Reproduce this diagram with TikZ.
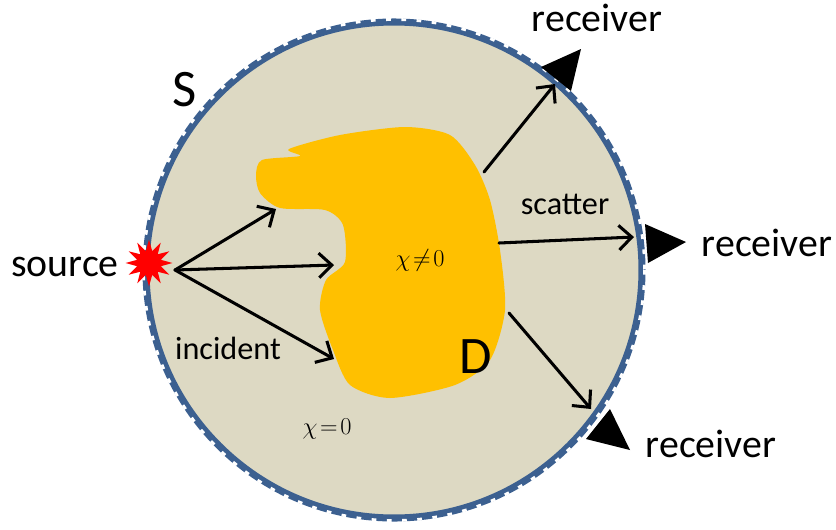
\documentclass[tikz,border=0pt]{standalone}
\usepackage{amsmath,amssymb}
\usepackage{fontspec}
\setmainfont{Carlito}
\usepackage{tikz}
\usetikzlibrary{arrows,arrows.meta,shapes.geometric}
\definecolor{tan}{HTML}{DDD9C3}
\definecolor{rim}{HTML}{3C6090}
\definecolor{blob}{HTML}{FFC000}

\begin{document}
\begin{tikzpicture}[
x=0.03cm,y=-0.03cm,
txt/.style={font=\fontsize{34pt}{38pt}\selectfont,inner sep=0pt},
smalltxt/.style={font=\fontsize{27.5pt}{30pt}\selectfont,inner sep=0pt},
bigtxt/.style={font=\fontsize{45pt}{50pt}\selectfont,inner sep=0pt},
mathtxt/.style={font=\fontsize{20pt}{24pt}\selectfont,inner sep=0pt},
arrow/.style={-{Straight Barb[length=11pt,width=21pt]},line width=2.6pt,line cap=round},
receiver/.style={fill=black}
]

\useasboundingbox (0,0) rectangle (836,529);

\fill[tan] (394,270) circle (247);
\draw[rim,line width=6pt] (394,270) circle (248);
\draw[white,line width=2.4pt,dash pattern=on 4pt off 9pt] (394,270) circle (250.5);

\fill[blob] plot[smooth cycle,tension=0.45] coordinates {
(256,175) (262,160) (300,156) (289,149) (340,135) (405,127) (450,135) (475,165)
(490,200) (500,250) (505,310) (490,360) (455,385) (390,398) (350,385) (333,350)
(320,310) (326,280) (345,262) (343,225) (325,210) (280,208) (260,193)};

\node[star,star points=12,star point ratio=1.9,fill=red,minimum size=40pt,inner sep=0pt] (burst) at (149,263) {};

\node[txt] (source) at (65,267) {source};
\node[txt] (rtop) at (597,18) {receiver};
\node[txt] (rright) at (767,243) {receiver};
\node[txt] (rbottom) at (711,444) {receiver};
\node[bigtxt] (S) at (185,90) {S};
\node[bigtxt] (D) at (476,357) {D};
\node[smalltxt] (scatter) at (565,204) {scatter};
\node[smalltxt] (incident) at (228,348) {incident};
\node[mathtxt] (chiin) at (420,260) {$\chi\!\neq\! 0$};
\node[mathtxt] (chiout) at (327,429) {$\chi\!=\!0$};

\coordinate (inc) at (175,270);
\coordinate (inc1) at (276,209);
\coordinate (inc2) at (334,265);
\coordinate (inc3) at (334,359);
\coordinate (sc1) at (484,172);
\coordinate (sc1e) at (555,84);
\coordinate (sc2) at (499,243);
\coordinate (sc2e) at (634,237);
\coordinate (sc3) at (509,313);
\coordinate (sc3e) at (591,409);

\draw[arrow] (inc) -- (inc1);
\draw[arrow] (inc) -- (inc2);
\draw[arrow] (inc) -- (inc3);
\draw[arrow] (sc1) -- (sc1e);
\draw[arrow] (sc2) -- (sc2e);
\draw[arrow] (sc3) -- (sc3e);

\fill[receiver] (541,67) -- (581,49) -- (571,91) -- cycle;
\fill[receiver] (645,224) -- (686,242) -- (648,263) -- cycle;
\fill[receiver] (586,439) -- (610,409) -- (630,450) -- cycle;

\end{tikzpicture}
\end{document}
